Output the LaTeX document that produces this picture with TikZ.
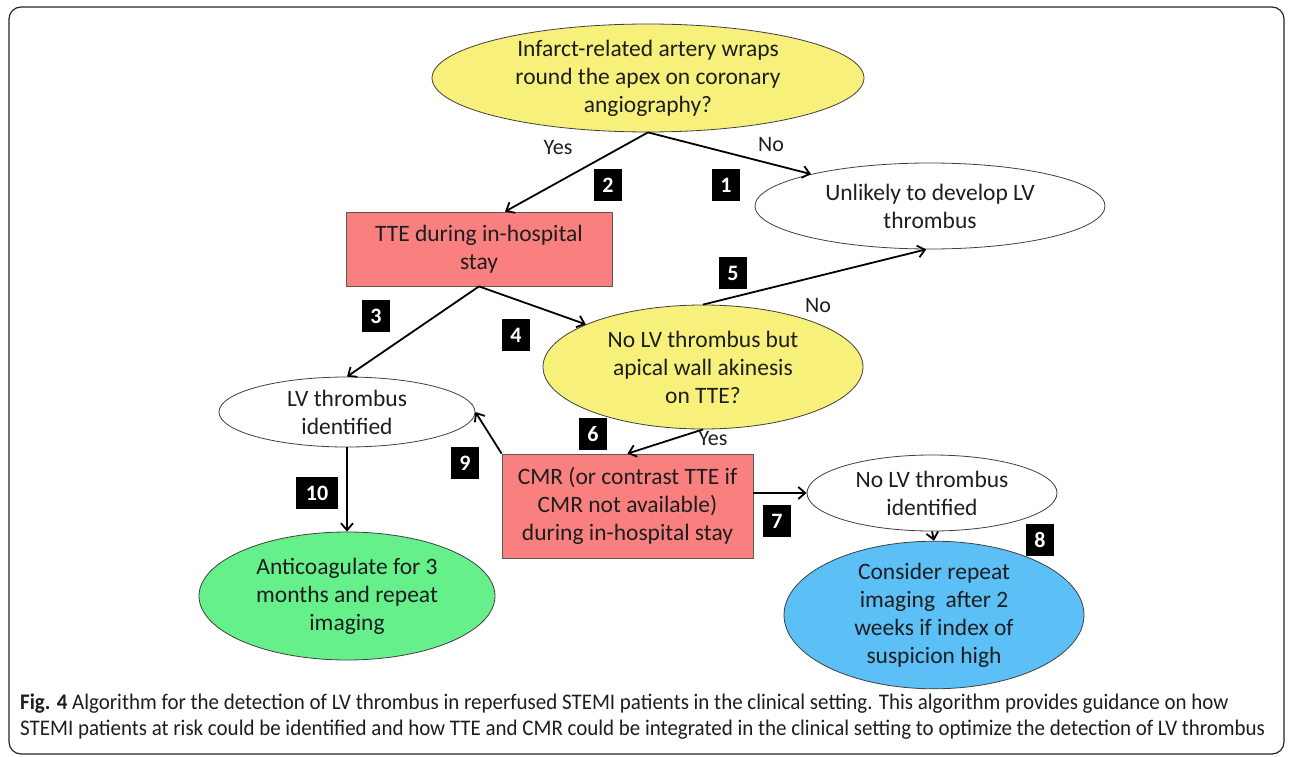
\documentclass[tikz,border=0pt]{standalone}
\usepackage{fontspec}
\setmainfont{Carlito}
\newfontfamily\capfont[FakeStretch=0.94]{Carlito}
\usetikzlibrary{shapes.geometric,arrows.meta,calc}
\definecolor{yel}{RGB}{247,240,122}
\definecolor{redf}{RGB}{250,128,128}
\definecolor{grn}{RGB}{102,240,140}
\definecolor{blu}{RGB}{92,192,246}
\definecolor{txt}{RGB}{30,30,30}
\newcommand\msz{\fontsize{23.5}{28}\selectfont}
\newcommand\lsz{\fontsize{22}{26}\selectfont}
\newcommand\csz{\fontsize{22.3}{26}\selectfont}
\begin{document}
\begin{tikzpicture}[x=1pt,y=-1pt,
  ell/.style={ellipse, draw=black!75, line width=0.8pt, inner sep=0pt, align=center, font=\msz, text=txt},
  rbox/.style={rectangle, draw=black!65, line width=0.8pt, fill=redf, inner sep=0pt, align=center, font=\msz, text=txt},
  num/.style={fill=black, text=white, font=\lsz\bfseries, minimum width=28pt, minimum height=32pt, inner sep=0pt},
  lab/.style={font=\lsz, text=txt, inner sep=0pt},
  captxt/.style={anchor=west, inner sep=0pt, font=\capfont\csz, text=txt},
  arr/.style={draw=black, line width=1.8pt, -{Straight Barb[length=7pt,width=12pt]}}
]
\useasboundingbox (0,0) rectangle (1292,757);
\fill[white] (0,0) rectangle (1292,757);
\draw[black!85, line width=1.2pt, rounded corners=12pt] (9,7) rectangle (1284,754);

% nodes
\node[ell, fill=yel, minimum width=432pt, minimum height=100pt] (q1) at (648,78)
  {Infarct-related artery wraps\\round the apex on coronary\\angiography?};
\node[ell, fill=white, minimum width=350pt, minimum height=86pt] (unl) at (930,206)
  {Unlikely to develop LV\\thrombus};
\node[rbox, minimum width=266pt, minimum height=74pt] (tte) at (479,249)
  {TTE during in-hospital\\stay};
\node[ell, fill=yel, minimum width=320pt, minimum height=124pt] (q2) at (703,367)
  {No LV thrombus but\\apical wall akinesis\\on TTE?};
\node[ell, fill=white, minimum width=256pt, minimum height=70pt] (lv) at (347,412)
  {LV thrombus\\identified};
\node[rbox, minimum width=251pt, minimum height=104pt] (cmr) at (627.5,506)
  {CMR (or contrast TTE if\\CMR not available)\\during in-hospital stay};
\node[ell, fill=white, minimum width=250pt, minimum height=76pt] (nolv) at (932,493)
  {No LV thrombus\\identified};
\node[ell, fill=grn, minimum width=296pt, minimum height=128pt] (ac) at (347,596)
  {Anticoagulate for 3\\months and repeat\\imaging};
\node[ell, fill=blu, minimum width=300pt, minimum height=122pt] (rep) at (934,615)
  {Consider repeat\\imaging\ \ after 2\\weeks if index of\\suspicion high};

% connectors
\draw[arr] (q1.south) -- ($(tte.north)+(26,0)$);
\draw[arr] (q1.south) -- (unl.165);
\draw[arr] (tte.south) -- (lv.north);
\draw[arr] (tte.south) -- (q2.160);
\draw[arr] (q2.north) -- (unl.265);
\draw[arr] (q2.south) -- (cmr.north);
\draw[arr] (cmr.north west) -- (lv.east);
\draw[arr] (cmr.east |- nolv.west) -- (nolv.west);
\draw[arr] (nolv.south) -- (rep.north);
\draw[arr] (lv.south) -- (ac.north);

% labels
\node[lab] (yes1) at (558,148) {Yes};
\node[lab] (no1) at (771,145) {No};
\node[lab] (no2) at (818,306) {No};
\node[lab] (yes2) at (713,439) {Yes};

% numbers
\node[num] (n1) at (726,185) {1};
\node[num] (n2) at (608,185) {2};
\node[num] (n3) at (376,316) {3};
\node[num] (n4) at (516,335) {4};
\node[num] (n5) at (733,273) {5};
\node[num] (n6) at (593,434) {6};
\node[num] (n7) at (777,521) {7};
\node[num] (n8) at (1040,540) {8};
\node[num] (n9) at (465,463) {9};
\node[num, minimum width=42pt] (n10) at (317,493) {10};

% caption
\node[captxt] (cap1) at (20,704)
  {\textbf{Fig. 4} Algorithm for the detection of LV thrombus in reperfused STEMI patients in the clinical setting. This algorithm provides guidance on how};
\node[captxt] (cap2) at (20,730)
  {STEMI patients at risk could be identified and how TTE and CMR could be integrated in the clinical setting to optimize the detection of LV thrombus};
\end{tikzpicture}
\end{document}
